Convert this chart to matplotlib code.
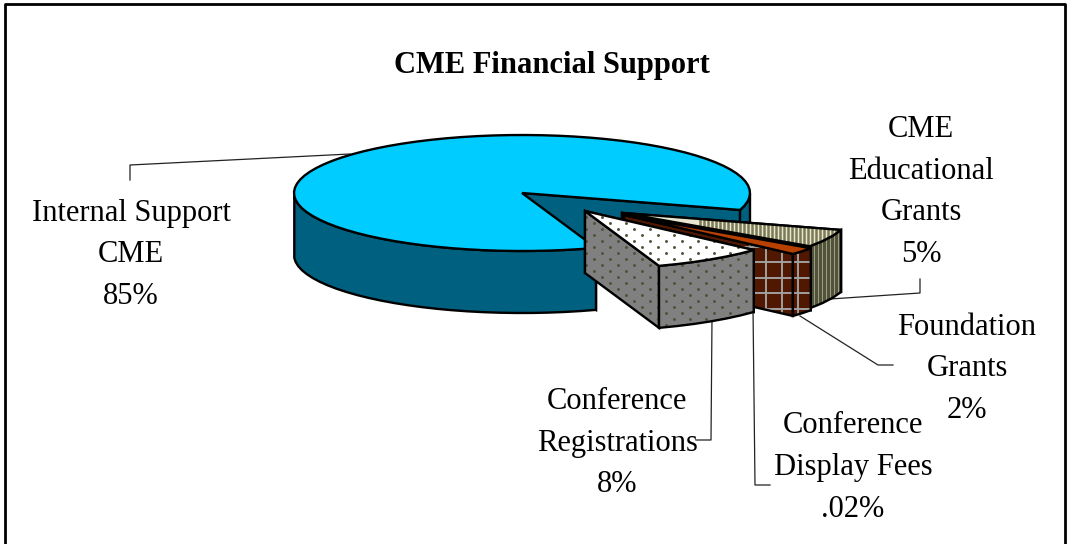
import numpy as np
import matplotlib
matplotlib.use("Agg")
import matplotlib.pyplot as plt
from matplotlib.patches import Polygon

# slices, clockwise, starting at the right hand edge of the big slice
labels = ["CME\nEducational\nGrants\n5%", "Foundation\nGrants\n2%", "Conference\nDisplay Fees\n.02%",
          "Conference\nRegistrations\n8%", "Internal Support\nCME\n85%"]
values = [5, 2, 0.02, 8, 85]

label_x = [921, 967, 853, 617, 131]
label_y = [192, 369, 467.5, 443, 255]

# pie geometry, in pixels of the picture
cx, cy = 522, 193
rx, ry = 228, 58
depth = 62
start_angle = -17
offset_x = [101, 102, 100, 63, 0]
offset_y = [20, 22, 20, 18, 0]

top_color = ["#e8e8d0", "#b84000", "#b84000", "#ffffff", "#00ccff"]
side_color = ["#c0c0a0", "#501800", "#501800", "#808080", "#006080"]
texture_color = ["#50533a", "#a0a0a0", "#000000", "#50533a", "#006080"]
texture = ["stripes", "grid", None, "dots", None]

leaders = [
    ([800, 920, 920], [301, 293, 279]),
    ([800, 878, 893], [316, 365, 365]),
    ([753, 755, 770], [308, 485, 485]),
    ([712, 711, 696], [319, 440, 440]),
    ([350, 130, 130], [154, 165, 180]),
]


def fill_texture(ax, patch, kind, color, lw_stripe=2.4):
    x1, y1 = patch.get_xy().min(axis=0)
    x2, y2 = patch.get_xy().max(axis=0)
    if kind == "stripes":
        for x in np.arange(700, 900, 4):
            ln, = ax.plot([x, x], [y1, y2], color=color, lw=lw_stripe, solid_capstyle="butt", zorder=1)
            ln.set_clip_path(patch)
    if kind == "grid":
        for x in np.arange(750, 830, 16):
            ln, = ax.plot([x, x], [y1, y2], color=color, lw=1.4, zorder=1)
            ln.set_clip_path(patch)
        for y in np.arange(246.5, 340, 15.5):
            ln, = ax.plot([x1, x2], [y, y], color=color, lw=1.4, zorder=1)
            ln.set_clip_path(patch)
    if kind == "dots":
        xs, ys = [], []
        for row, y in enumerate(np.arange(205, 340, 6)):
            for x in np.arange(570 + 8 * (row % 2), 770, 16):
                xs.append(x)
                ys.append(y)
        dots = ax.scatter(xs, ys, s=4.5, color=color, linewidths=0, zorder=1)
        dots.set_clip_path(patch)


def face(ax, xs, ys, fc, kind=None, tc=None, lw=1.7, lw_stripe=2.4):
    pts = np.column_stack([xs, ys])
    patch = ax.add_patch(Polygon(pts, closed=True, facecolor=fc, edgecolor="none"))
    if kind:
        fill_texture(ax, patch, kind, tc, lw_stripe)
    ax.add_patch(Polygon(pts, closed=True, facecolor="none", edgecolor="black", linewidth=lw))


def draw_slice(ax, a1, a2, ox, oy, i):
    # a1 > a2 : going clockwise on the screen means the angle gets smaller
    x0, y0 = cx + ox, cy + oy
    t = np.radians(np.linspace(a1, a2, max(3, int(abs(a1 - a2) / 4))))
    ax_x = x0 + rx * np.cos(t)
    ax_y = y0 - ry * np.sin(t)
    fc, tc, kind = side_color[i], texture_color[i], texture[i]
    # cut faces first, the one on the far side then the near one
    for k in [0, -1]:
        face(ax, [x0, ax_x[k], ax_x[k], x0], [y0, ax_y[k], ax_y[k] + depth, y0 + depth], fc, kind, tc)
    # outer rim, only the parts facing the viewer (the big slice has two of them)
    front = np.sin(t) <= 0.02
    cuts = np.where(np.diff(front.astype(int)) != 0)[0] + 1
    for part, x_part, y_part in zip(np.split(front, cuts), np.split(ax_x, cuts), np.split(ax_y, cuts)):
        if part[0]:
            face(ax, np.r_[x_part, x_part[::-1]], np.r_[y_part, y_part[::-1] + depth], fc, kind, tc)
    face(ax, np.r_[x0, ax_x], np.r_[y0, ax_y], top_color[i], kind if i != 1 else None,
         "#7a7a58" if i == 0 else tc, lw_stripe=1.8)


plt.rcParams["font.family"] = ["Liberation Serif", "DejaVu Serif"]

fig = plt.figure(figsize=(10.67, 5.44), dpi=100)
ax = fig.add_axes([0, 0, 1, 1])
ax.set_xlim(0, 1067)
ax.set_ylim(544, 0)
ax.axis("off")

# frame has no bottom line in the picture
ax.plot([5, 5, 1065, 1065], [544, 4, 4, 544], color="black", lw=2)

for xs, ys in leaders:
    ax.plot(xs, ys, color="#222222", lw=0.9, zorder=0.5)

total = sum(values)
angle = start_angle
angles = []
for v in values:
    angles.append((angle, angle - v / total * 360))
    angle -= v / total * 360

# big slice at the back, then the others from back to front
for i in [4, 0, 2, 1, 3]:
    draw_slice(ax, angles[i][0], angles[i][1], offset_x[i], offset_y[i], i)

for i in range(len(labels)):
    ax.text(label_x[i], label_y[i], labels[i], ha="center", va="center", fontsize=22,
            color="black", linespacing=1.58, zorder=5)

ax.text(552, 66, "CME Financial Support", ha="center", va="center", fontsize=22,
        fontweight="bold", color="black")

fig.savefig("out.png", dpi=100)
